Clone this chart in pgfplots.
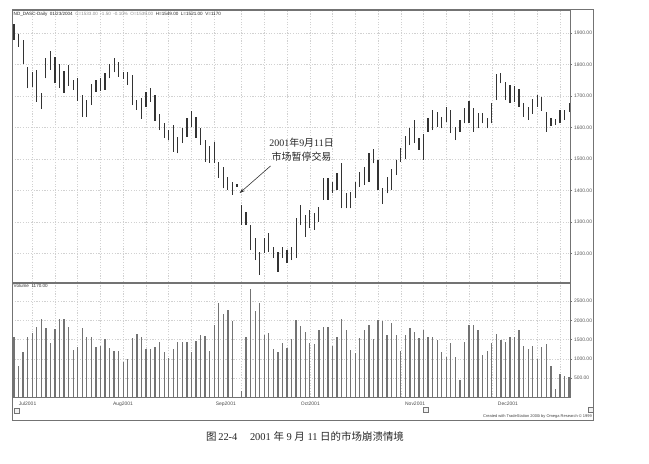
\documentclass[border=0pt]{standalone}
\usepackage{pgfplots}
\pgfplotsset{compat=1.18}
\usepackage{pgfplotstable}
\usepackage{fontspec}
\setmainfont{Liberation Serif}
\setsansfont{Liberation Sans}
\newfontfamily\cjk{Noto Sans CJK SC}
\usetikzlibrary{arrows.meta}

\pgfplotstableread{
x h l
0 1928 1878
1 1896 1857
2 1878 1801
3 1793 1724
4 1777 1730
5 1783 1682
6 1709 1658
7 1820 1756
8 1843 1783
9 1825 1740
10 1801 1726
11 1779 1709
12 1798 1733
13 1751 1719
14 1756 1684
15 1703 1634
16 1687 1634
17 1737 1671
18 1751 1714
19 1756 1716
20 1772 1719
21 1801 1756
22 1822 1775
23 1809 1761
24 1775 1754
25 1775 1735
26 1767 1671
27 1687 1656
28 1693 1627
29 1714 1666
30 1726 1682
31 1703 1621
32 1642 1592
33 1613 1566
34 1592 1560
35 1608 1523
36 1571 1518
37 1597 1550
38 1631 1571
39 1653 1603
40 1634 1567
41 1597 1544
42 1560 1491
43 1541 1488
44 1555 1486
45 1491 1439
46 1476 1407
47 1444 1402
48 1428 1386
49 1421 1412
50 1354 1290
51 1333 1290
52 1290 1211
53 1248 1179
54 1206 1132
55 1248 1201
56 1264 1206
57 1222 1185
58 1206 1142
59 1220 1185
60 1211 1169
61 1222 1179
62 1312 1185
63 1354 1290
64 1322 1253
65 1338 1280
66 1328 1275
67 1349 1301
68 1439 1370
69 1439 1370
70 1428 1391
71 1455 1402
72 1486 1343
73 1391 1343
74 1396 1343
75 1428 1375
76 1460 1412
77 1473 1418
78 1520 1428
79 1531 1486
80 1497 1402
81 1407 1357
82 1444 1391
83 1467 1402
84 1497 1449
85 1534 1491
86 1573 1499
87 1597 1544
88 1624 1550
89 1566 1529
90 1579 1497
91 1629 1587
92 1656 1592
93 1650 1603
94 1634 1597
95 1666 1618
96 1656 1582
97 1603 1560
98 1624 1587
99 1661 1613
100 1685 1613
101 1661 1587
102 1645 1597
103 1647 1613
104 1629 1597
105 1679 1613
106 1770 1687
107 1774 1740
108 1745 1687
109 1735 1677
110 1732 1682
111 1721 1666
112 1679 1634
113 1666 1624
114 1690 1643
115 1703 1666
116 1698 1653
117 1650 1587
118 1629 1605
119 1626 1608
120 1656 1613
121 1656 1624
122 1677 1650
}\price

\pgfplotstableread{
x v
0 1558
1 814
2 1186
3 1558
4 1680
5 1835
6 2026
7 1792
8 1420
9 1766
10 2026
11 2026
12 1818
13 1229
14 1316
15 1792
16 1576
17 1558
18 1316
19 1333
20 1506
21 1273
22 1203
23 1203
24 909
25 987
26 1532
27 1636
28 1576
29 1247
30 1247
31 1299
32 1446
33 1186
34 1013
35 1255
36 1446
37 1429
38 1429
39 1169
40 1472
41 1619
42 1593
43 1212
44 1879
45 2459
46 2165
47 2268
48 1974
50 165
51 1576
52 2805
53 2242
54 2459
55 1619
56 1662
57 1247
58 1186
59 1420
60 1290
61 1524
62 2009
63 1861
64 1688
65 1420
66 1385
67 1749
68 1835
69 1835
70 1333
71 1558
72 2035
73 1749
74 1229
75 1143
76 1532
77 1749
78 1879
79 1506
80 2009
81 1991
82 1619
83 1939
84 1619
85 1212
86 1619
87 1810
88 1706
89 1532
90 1749
91 1576
92 1576
93 1489
94 1186
95 1039
96 1403
97 1056
98 450
99 1446
100 1879
101 1879
102 1749
103 1100
104 1212
105 1403
106 1645
107 1489
108 1446
109 1558
110 1558
111 1749
112 1333
113 1247
114 1342
115 996
116 1299
117 1385
118 814
119 208
120 597
121 563
122 537
}\volume

\pgfplotsset{
  panel/.style={
    scale only axis,
    xmin=-0.44, xmax=122.2,
    axis line style={black!55, line width=0.6bp},
    xtick={4,9,14,19,24,29,34,39,44,50,55,60,65,70,75,80,85,90,95,100,105,110,115,120},
    xticklabels={},
    xtick style={draw=none},
    ytick pos=right,
    yticklabel pos=right,
    tick align=outside,
    major tick length=2bp,
    ytick style={black!55, line width=0.5bp},
    yticklabel style={font=\sffamily\fontsize{5}{6}\selectfont, text=black!65, xshift=-1.5bp},
    /pgf/number format/assume math mode=true,
    /pgf/number format/.cd, fixed, fixed zerofill, precision=2, 1000 sep={},
    /pgfplots/.cd,
    grid=major,
    major grid style={black!18, line width=0.5bp, dash pattern=on 1.2bp off 1.5bp},
  }
}

\begin{document}
\begin{tikzpicture}[x=1bp,y=1bp]
\useasboundingbox (0,0) rectangle (649,464);

% price panel
\begin{axis}[panel,
  at={(12bp,182bp)}, anchor=south west,
  width=558bp, height=272bp,
  ymin=1109.5, ymax=1973,
  ytick={1200,1300,1400,1500,1600,1700,1800,1900},
]
\addplot[draw=none, mark=none,
  error bars/.cd, y dir=plus, y explicit, error mark=none,
  error bar style={draw=black!80, line width=1.2bp}]
  table[x=x, y=l, y error expr=\thisrow{h}-\thisrow{l}] {\price};
\node[align=center, font=\fontsize{10}{14}\selectfont, text=black!85] at (axis cs:63.2,1529)
  {2001{\cjk 年}9{\cjk 月}11{\cjk 日}\\{\cjk 市场暂停交易}};
\draw[-{Stealth[length=5bp,width=3.5bp]}, black!80, line width=0.6bp]
  (axis cs:56.4,1478) -- (axis cs:49.6,1392);
\end{axis}

% volume panel
\begin{axis}[panel,
  at={(12bp,66.7bp)}, anchor=south west,
  width=558bp, height=114.3bp,
  ymin=0, ymax=2969,
  ytick={500,1000,1500,2000,2500},
  extra x ticks={0.4,21.1,43.7,62.4,85.3,105.7},
  extra x tick labels={Jul2001,Aug2001,Sep2001,Oct2001,Nov2001,Dec2001},
  extra x tick style={grid=none, tick style={draw=black!55, line width=0.5bp},
     major tick length=2bp,
     tick label style={font=\sffamily\fontsize{5}{6}\selectfont, text=black!70, anchor=north west, xshift=-0.5bp, yshift=1bp}},
]
\addplot[ycomb, black!55, line width=1.3bp, mark=none] table[x=x, y=v] {\volume};
\end{axis}

% chart frame and decorations
\draw[black!55, line width=0.6bp] (12,44) rectangle (593,454.7);
\node[anchor=north west, inner sep=0pt, font=\sffamily\fontsize{4.6}{5}\selectfont] at (13.5,452.5)
  {\textcolor{black!85}{ND\_DASC-Daily\ \ 01/23/2004}\ \ \textcolor{black!45}{C=1533.00\ \ -1.50\ \ -0.10\%\ \ O=1539.00}\ \ \textcolor{black!85}{H=1549.00\ \ L=1521.00\ \ V=1170}};
\node[anchor=north west, inner sep=0pt, font=\sffamily\fontsize{4.6}{5}\selectfont, text=black!80] at (13.5,180.5)
  {Volume\ \ 1170.00};
\draw[black!55, line width=0.4bp, fill=black!5] (14.5,51) rectangle (19.5,56);
\draw[black!55, line width=0.4bp, fill=black!5] (423,52) rectangle (428,57);
\draw[black!55, line width=0.4bp, fill=black!5] (588,52) rectangle (593,57);
\node[anchor=east, inner sep=0pt, font=\sffamily\fontsize{4}{5}\selectfont, text=black!75] at (592,48)
  {Created with TradeStation 2000i by Omega Research \textcopyright\ 1999};

% caption
\node[font=\fontsize{10.5}{12}\selectfont, text=black!85] at (305,27)
  {{\cjk 图}\,22-4\hspace{1.2em}2001 {\cjk 年} 9 {\cjk 月} 11 {\cjk 日的市场崩溃情境}};
\end{tikzpicture}
\end{document}
